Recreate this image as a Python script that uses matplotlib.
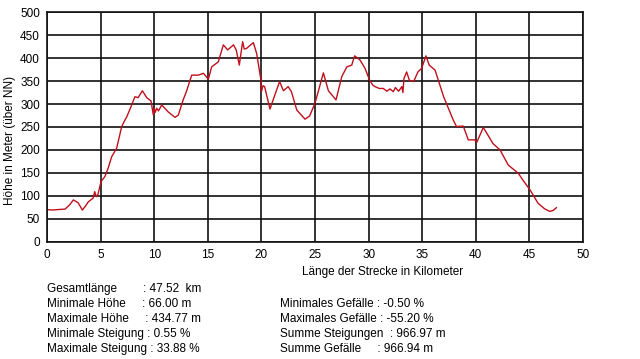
import matplotlib
matplotlib.use("Agg")
import matplotlib.pyplot as plt

plt.rcParams['font.family'] = ['Liberation Sans', 'DejaVu Sans']

# profile: distance (km) and height (m)
km = [0.0, 0.5, 1.0, 1.68, 2.1, 2.46, 2.9, 3.3, 3.6, 3.86, 4.3, 4.45, 4.6, 4.74,
      5.04, 5.4, 5.7, 6.03, 6.5, 6.97, 7.2, 7.44, 7.9, 8.2, 8.5, 8.9, 9.3, 9.7,
      9.92, 10.0, 10.1, 10.23, 10.4, 10.7, 11.3, 11.94, 12.25, 12.7, 13.0, 13.5, 14.1,
      14.6, 15.05, 15.36, 15.98, 16.45, 16.85, 17.4, 17.65, 17.94, 18.25, 18.4, 18.6,
      19.25, 19.56, 19.96, 20.0, 20.15, 20.3, 20.8, 21.3, 21.7, 22.05, 22.5, 22.8, 23.3,
      24.07, 24.5, 25.0, 25.3, 25.78, 26.25, 26.96, 27.5, 27.97, 28.43, 28.6, 28.7,
      29.2, 29.66, 30.1, 30.4, 30.6, 31.0, 31.37, 31.7, 32.0, 32.3, 32.5, 32.8,
      33.1, 33.2, 33.3, 33.55, 33.8, 34.2, 34.6, 34.95, 35.35, 35.65, 36.2, 37.0,
      37.9, 38.2, 38.83, 39.3, 39.9, 40.08, 40.7, 41.6, 42.26, 43.03, 43.97, 44.4,
      45.06, 45.8, 46.4, 46.9, 47.2, 47.52]
hoehe = [70, 69, 70, 71, 80, 91, 85, 69, 78, 87, 95, 109, 98, 102,
         131, 142, 160, 185, 204, 251, 262, 272, 298, 316, 314, 329, 314, 307,
         276, 290, 282, 291, 285, 298, 283, 271, 276, 309, 327, 363, 363,
         367, 354, 381, 392, 429, 418, 429, 418, 385, 436, 420, 421,
         434, 410, 352, 327, 340, 338, 289, 323, 349, 329, 338, 327, 287,
         267, 274, 302, 327, 368, 329, 309, 360, 381, 385, 398, 405,
         396, 378, 352, 341, 338, 334, 334, 328, 333, 327, 336, 328,
         338, 325, 356, 370, 352, 349, 370, 378, 405, 385, 374, 316,
         265, 251, 252, 222, 222, 216, 249, 214, 200, 167, 149, 134,
         113, 84, 72, 66, 68, 74]

x_ticks = list(range(0, 51, 5))
y_ticks = list(range(0, 501, 50))

stats_left = ["Gesamtlänge        : 47.52  km",
              "Minimale Höhe     : 66.00 m",
              "Maximale Höhe     : 434.77 m",
              "Minimale Steigung : 0.55 %",
              "Maximale Steigung : 33.88 %"]
stats_right = ["",
               "Minimales Gefälle : -0.50 %",
               "Maximales Gefälle : -55.20 %",
               "Summe Steigungen  : 966.97 m",
               "Summe Gefälle     : 966.94 m"]

fig = plt.figure(figsize=(6.4, 3.59), dpi=100)
fig.patch.set_facecolor('white')
ax = fig.add_axes([47/640, 1-241.7/359, 536/640, 229.4/359])

ax.plot(km, hoehe, color='#c0101c', lw=1.0)
ax.set_xlim(0, 50)
ax.set_ylim(0, 500)
ax.set_xticks(x_ticks)
ax.set_yticks(y_ticks)
ax.grid(True, color='#111111', lw=1.2)
for s in ax.spines.values():
    s.set_color('#111111')
    s.set_linewidth(1.2)
ax.tick_params(length=0, labelsize=8.5, pad=5)

fig.text(10/640, 1-140/359, "Höhe in Meter (über NN)", rotation=90,
         ha='center', va='center', fontsize=8.5)
fig.text(383/640, 1-272/359, "Länge der Strecke in Kilometer",
         ha='center', va='center', fontsize=8.5)

for i, line in enumerate(stats_left):
    fig.text(47/640, 1-(289+15*i)/359, line, ha='left', va='center', fontsize=8.5)
for i, line in enumerate(stats_right):
    if line:
        fig.text(280/640, 1-(289+15*i)/359, line, ha='left', va='center', fontsize=8.5)

fig.savefig("out.png", dpi=100)
